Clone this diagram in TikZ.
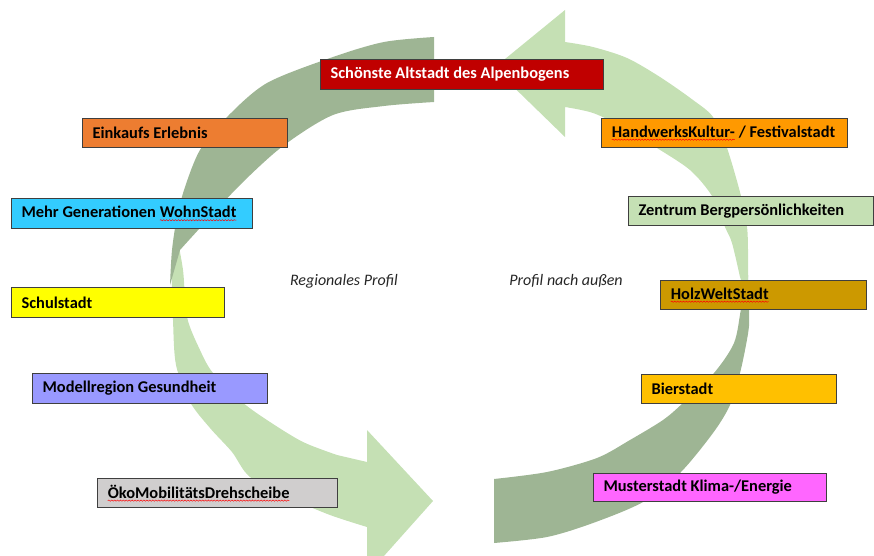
\documentclass[tikz,border=0pt]{standalone}
\usepackage{fontspec}
\setmainfont{Carlito}
\usetikzlibrary{decorations.pathmorphing}
\definecolor{darkarc}{HTML}{9EB594}
\definecolor{lightarc}{HTML}{C5E0B4}
\definecolor{boxline}{HTML}{3F3F3F}
\definecolor{cRed}{HTML}{C00000}
\definecolor{cOrange}{HTML}{ED7D31}
\definecolor{cCyan}{HTML}{33CCFF}
\definecolor{cYellow}{HTML}{FFFF00}
\definecolor{cViolet}{HTML}{9999FF}
\definecolor{cGrey}{HTML}{D0CECE}
\definecolor{cAmber}{HTML}{FF9900}
\definecolor{cPale}{HTML}{C5E0B4}
\definecolor{cOchre}{HTML}{CC9900}
\definecolor{cGold}{HTML}{FFC000}
\definecolor{cPink}{HTML}{FF66FF}
\definecolor{spellred}{HTML}{FF0000}
\newcommand\spellmark[1]{\tikz[baseline=(sw.base)]{\node[inner sep=0pt, outer sep=0pt, draw=none, minimum width=0pt, minimum height=0pt, text width=] (sw) {#1};
  \draw[spellred, line width=0.35pt, decorate, decoration={snake, amplitude=0.45pt, segment length=2.2pt}] ([yshift=-1.9pt]sw.base west) -- ([yshift=-1.9pt]sw.base east);}}
\begin{document}
\begin{tikzpicture}[x=0.75pt, y=-0.75pt,
  tag/.style={draw=boxline, line width=0.9pt, anchor=north west, align=flush left,
    font=\fontsize{12.3}{14}\selectfont\bfseries, inner xsep=7.5pt, inner ysep=0pt,
    minimum height=21.75pt, text=black},
  profil/.style={font=\fontsize{12}{14}\selectfont\itshape, text=black!85, inner sep=0pt}]
\useasboundingbox (0,0) rectangle (874,556);
\begin{scope}
\clip (0,0) rectangle (874,556);
% left light piece (lower left, arrow pointing right)
\fill[lightarc] plot[smooth] coordinates {(176,232) (172,280) (173,320) (176,365) (190,402) (210,428) (232,452) (250,477) (290,498) (330,515) (367,527)}
  -- (367,575) -- (433,501) -- (367,430) -- (367,462)
  -- plot[smooth] coordinates {(337,455) (303,442) (270,422) (242,402) (213,373) (200,350) (187,317) (183,270) (176,232)} -- cycle;
% left dark piece (upper left)
\fill[darkarc] plot[smooth] coordinates {(434,37) (384,42) (333,57) (267,83) (227,117) (200,150) (185,187) (177,217) (172,250) (170,285)}
  -- plot[smooth] coordinates {(180,250) (200,228) (240,185) (283,146) (333,115) (384,106) (434,102)} -- cycle;
% right dark piece (lower right)
\fill[darkarc] plot[smooth] coordinates {(748,275) (749,309) (749,326) (746,345) (740,373) (730,405) (713,433) (680,473) (643,502) (593,523) (547,537) (494,543)}
  -- plot[smooth] coordinates {(494,479) (547,472) (597,458) (630,440) (663,420) (683,403) (714,373) (734,343) (741,309) (748,275)} -- cycle;
% right light piece (upper right, arrow pointing left)
\fill[lightarc] plot[smooth] coordinates {(565,42) (593,47) (627,58) (660,77) (693,100) (713,117) (727,148) (741,196) (747,227) (748,250) (748,277) (747,298)}
  -- plot[smooth] coordinates {(740,277) (732,243) (725,227) (712,196) (690,170) (657,148) (625,128) (593,113) (565,107)}
  -- (565,137) -- (494,68) -- (565,10) -- cycle;
\end{scope}

\node[profil] (regional) at (344,281) {Regionales Profil};
\node[profil] (aussen) at (566,281) {Profil nach außen};

\node[tag, fill=cRed, text=white, text width=197.25pt, minimum height=22.5pt] (altstadt) at (320,59) {Schönste Altstadt des Alpenbogens};
\node[tag, fill=cOrange, text width=138.75pt] (einkauf) at (82,118) {Einkaufs Erlebnis};
\node[tag, fill=cCyan, text width=165.75pt, minimum height=22.5pt] (wohn) at (11,198) {Mehr Generationen \spellmark{WohnStadt}};
\node[tag, fill=cYellow, text width=144.75pt, minimum height=22.5pt] (schul) at (11,287) {Schulstadt};
\node[tag, fill=cViolet, text width=161.25pt, minimum height=22.5pt] (gesund) at (32,373) {Modellregion Gesundheit};
\node[tag, fill=cGrey, text width=165pt] (oeko) at (97,478) {\spellmark{ÖkoMobilitätsDrehscheibe}};
\node[tag, fill=cAmber, text width=169.5pt] (handwerk) at (601,118) {\spellmark{HandwerksKultur-} / Festivalstadt};
\node[tag, fill=cPale, text width=168.75pt] (berg) at (628,196) {Zentrum Bergpersönlichkeiten};
\node[tag, fill=cOchre, text width=139.5pt] (holz) at (660,280) {\spellmark{HolzWeltStadt}};
\node[tag, fill=cGold, text width=131.25pt] (bier) at (641,374) {Bierstadt};
\node[tag, fill=cPink, text width=159.75pt, minimum height=21pt] (muster) at (593,473) {Musterstadt Klima-/Energie};
\end{tikzpicture}
\end{document}
